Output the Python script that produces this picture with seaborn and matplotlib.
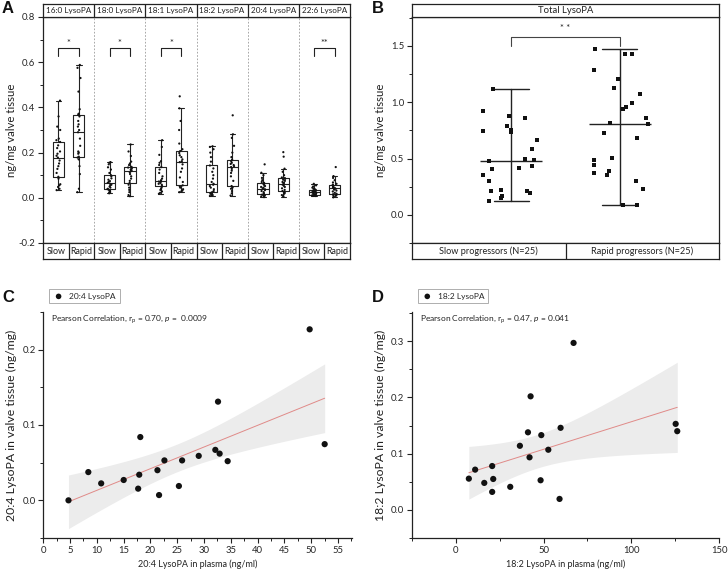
import numpy as np
import pandas as pd
import matplotlib
matplotlib.use("Agg")
import matplotlib.pyplot as plt
import seaborn as sns
from matplotlib.ticker import MultipleLocator, FormatStrFormatter

sns.set_theme(style="ticks")
plt.rcParams["font.family"] = ["Lato", "DejaVu Sans"]
plt.rcParams["mathtext.fontset"] = "custom"
plt.rcParams["mathtext.rm"] = "Lato"
plt.rcParams["mathtext.it"] = "Lato:italic"
plt.rcParams["mathtext.bf"] = "Lato:bold"

# ---------------- data ----------------
species = ["16:0 LysoPA", "18:0 LysoPA", "18:1 LysoPA", "18:2 LysoPA", "20:4 LysoPA", "22:6 LysoPA"]
groups = ["Slow", "Rapid"]
sig_species = ["16:0 LysoPA", "18:0 LysoPA", "18:1 LysoPA", "22:6 LysoPA"]
sig_labels = ["*", "*", "*", "**"]

a160_slow = [0.034, 0.040, 0.048, 0.055, 0.060, 0.085, 0.093, 0.110, 0.128, 0.140, 0.152, 0.165, 0.178,
             0.186, 0.195, 0.205, 0.220, 0.232, 0.247, 0.255, 0.262, 0.300, 0.315, 0.360, 0.430]
a160_rapid = [0.025, 0.040, 0.105, 0.140, 0.170, 0.178, 0.182, 0.195, 0.200, 0.205, 0.230, 0.262, 0.290,
              0.300, 0.315, 0.325, 0.340, 0.360, 0.368, 0.372, 0.392, 0.470, 0.530, 0.575, 0.588]
a180_slow = [0.020, 0.022, 0.026, 0.030, 0.034, 0.038, 0.040, 0.045, 0.050, 0.055, 0.058, 0.062, 0.066,
             0.070, 0.074, 0.080, 0.086, 0.095, 0.100, 0.110, 0.125, 0.135, 0.148, 0.155, 0.158]
a180_rapid = [0.007, 0.012, 0.025, 0.035, 0.045, 0.058, 0.066, 0.075, 0.085, 0.095, 0.105, 0.112, 0.118,
              0.120, 0.124, 0.127, 0.130, 0.134, 0.137, 0.145, 0.152, 0.160, 0.185, 0.205, 0.236]
a181_slow = [0.018, 0.022, 0.028, 0.035, 0.040, 0.046, 0.052, 0.058, 0.062, 0.066, 0.070, 0.072, 0.074,
             0.078, 0.085, 0.095, 0.110, 0.125, 0.136, 0.145, 0.155, 0.162, 0.190, 0.225, 0.255]
a181_rapid = [0.025, 0.028, 0.032, 0.038, 0.045, 0.050, 0.055, 0.070, 0.090, 0.115, 0.130, 0.148, 0.158,
              0.162, 0.170, 0.180, 0.188, 0.198, 0.207, 0.215, 0.240, 0.300, 0.340, 0.396, 0.449]
a182_slow = [0.008, 0.010, 0.012, 0.015, 0.018, 0.022, 0.025, 0.030, 0.038, 0.045, 0.052, 0.058, 0.062,
             0.070, 0.085, 0.100, 0.115, 0.130, 0.143, 0.160, 0.180, 0.200, 0.215, 0.225, 0.228]
a182_rapid = [0.010, 0.020, 0.030, 0.040, 0.045, 0.048, 0.052, 0.075, 0.095, 0.110, 0.120, 0.128, 0.136,
              0.140, 0.145, 0.150, 0.155, 0.162, 0.169, 0.180, 0.200, 0.230, 0.265, 0.281, 0.365]
a204_slow = [0.003, 0.006, 0.008, 0.010, 0.012, 0.014, 0.015, 0.020, 0.025, 0.030, 0.034, 0.038, 0.041,
             0.045, 0.048, 0.052, 0.056, 0.060, 0.066, 0.070, 0.078, 0.088, 0.100, 0.111, 0.148]
a204_rapid = [0.005, 0.008, 0.012, 0.018, 0.022, 0.026, 0.030, 0.035, 0.042, 0.048, 0.053, 0.058, 0.062,
              0.066, 0.070, 0.075, 0.080, 0.084, 0.087, 0.090, 0.100, 0.115, 0.129, 0.182, 0.202]
a226_slow = [0.008, 0.009, 0.010, 0.010, 0.011, 0.012, 0.012, 0.014, 0.016, 0.018, 0.020, 0.023, 0.025,
             0.026, 0.027, 0.028, 0.030, 0.032, 0.035, 0.038, 0.040, 0.045, 0.050, 0.055, 0.062]
a226_rapid = [0.002, 0.006, 0.010, 0.012, 0.014, 0.016, 0.018, 0.022, 0.028, 0.032, 0.036, 0.040, 0.043,
              0.045, 0.048, 0.050, 0.053, 0.055, 0.058, 0.062, 0.068, 0.078, 0.088, 0.096, 0.136]

b_labels = ["Slow progressors (N=25)", "Rapid progressors (N=25)"]
b_slow = [1.122, 0.921, 0.877, 0.862, 0.788, 0.756, 0.744, 0.738, 0.667, 0.585, 0.493, 0.475, 0.484,
          0.434, 0.404, 0.416, 0.351, 0.301, 0.218, 0.210, 0.210, 0.192, 0.165, 0.148, 0.127]
b_rapid = [1.470, 1.426, 1.432, 1.290, 1.210, 1.125, 1.072, 0.992, 0.954, 0.942, 0.859, 0.806, 0.812,
           0.729, 0.685, 0.487, 0.502, 0.443, 0.393, 0.369, 0.354, 0.298, 0.230, 0.086, 0.086]

c_plasma = [4.7, 8.4, 10.8, 15.0, 17.9, 17.7, 18.1, 21.3, 21.6, 22.6, 25.3, 25.9, 29.0, 32.1, 32.6, 32.9,
            34.4, 49.7, 52.5]
c_tissue = [0.000, 0.0375, 0.0225, 0.027, 0.034, 0.0155, 0.084, 0.040, 0.007, 0.053, 0.019, 0.053, 0.059,
            0.067, 0.131, 0.062, 0.052, 0.227, 0.0746]

d_plasma = [7.4, 11.0, 16.2, 20.7, 20.7, 21.3, 31.0, 36.5, 41.1, 42.0, 42.6, 48.3, 48.7, 52.7, 59.1, 59.7,
            67.1, 125.3, 126.2]
d_tissue = [0.0556, 0.0716, 0.048, 0.078, 0.032, 0.055, 0.041, 0.114, 0.138, 0.0935, 0.202, 0.0527, 0.133,
            0.107, 0.0195, 0.146, 0.297, 0.153, 0.140]

T975_DF17 = 2.1098  # Student t quantile for 95% CI, n=19

# ---------------- tables ----------------
slow_lists = [a160_slow, a180_slow, a181_slow, a182_slow, a204_slow, a226_slow]
rapid_lists = [a160_rapid, a180_rapid, a181_rapid, a182_rapid, a204_rapid, a226_rapid]
rows = []
for sp, s_vals, r_vals in zip(species, slow_lists, rapid_lists):
    rows += [(sp, "Slow", v) for v in s_vals]
    rows += [(sp, "Rapid", v) for v in r_vals]
dfA = pd.DataFrame(rows, columns=["species", "group", "value"])
dfB = pd.DataFrame({"group": ["Slow"] * len(b_slow) + ["Rapid"] * len(b_rapid),
                    "value": b_slow + b_rapid})

LINE = "#222222"
fig = plt.figure(figsize=(7.28, 5.72), dpi=100)
W, H = 728.0, 572.0


def rect(x0, y0, x1, y1):
    return [x0 / W, 1 - y1 / H, (x1 - x0) / W, (y1 - y0) / H]


def style_frame(ax, lw=0.9):
    for s in ax.spines.values():
        s.set_visible(True)
        s.set_color(LINE)
        s.set_linewidth(lw)


def strip_axes(rc, xlim, bounds, labels, centers, fs):
    ax = fig.add_axes(rc)
    ax.set_xlim(*xlim)
    ax.set_ylim(0, 1)
    ax.set_xticks([])
    ax.set_yticks([])
    ax.set_facecolor("white")
    style_frame(ax, 0.9)
    for b in bounds:
        ax.axvline(b, color=LINE, lw=0.9)
    for c, t in zip(centers, labels):
        ax.text(c, 0.47, t, ha="center", va="center", fontsize=fs, color="#222")
    return ax


# ---------------- Panel A ----------------
axA = fig.add_axes(rect(43, 17, 350, 243))
sns.boxplot(data=dfA, x="species", y="value", hue="group", order=species, hue_order=groups,
            width=0.8, gap=0.45, whis=1.5, showfliers=False, fill=False,
            palette={"Slow": LINE, "Rapid": LINE}, linewidth=0.8, legend=False, ax=axA)
np.random.seed(7)
sns.stripplot(data=dfA, x="species", y="value", hue="group", order=species, hue_order=groups,
              dodge=True, jitter=0.08, size=1.6, palette={"Slow": "#111", "Rapid": "#111"},
              linewidth=0, legend=False, ax=axA)
axA.set_xlim(-0.5, len(species) - 0.5)
axA.set_ylim(-0.2, 0.8)
axA.set_xticks([])
axA.set_xlabel("")
axA.yaxis.set_major_locator(MultipleLocator(0.2))
axA.yaxis.set_minor_locator(MultipleLocator(0.1))
axA.yaxis.set_major_formatter(FormatStrFormatter("%.1f"))
axA.tick_params(axis="y", which="major", length=3.5, width=0.8, labelsize=6.8, pad=2, color=LINE)
axA.tick_params(axis="y", which="minor", length=2, width=0.7, color=LINE)
axA.set_ylabel("ng/mg valve tissue", fontsize=8.2, color="#222")
axA.yaxis.set_label_coords(-0.085, 0.5)
style_frame(axA)
for i in range(len(species) - 1):
    axA.axvline(i + 0.5, color="#999999", lw=0.6, ls=(0, (2, 2)))
for sp, lab in zip(sig_species, sig_labels):
    i = species.index(sp)
    axA.plot([i - 0.2, i - 0.2, i + 0.2, i + 0.2], [0.629, 0.663, 0.663, 0.629], color=LINE, lw=0.8)
    axA.text(i, 0.683, lab, ha="center", va="center", fontsize=6.8, color="#222")

strip_axes(rect(43, 4, 350, 17), (-0.5, len(species) - 0.5),
           [i + 0.5 for i in range(len(species) - 1)], species, range(len(species)), 5.9)
xlab = []
xcen = []
for i in range(len(species)):
    xlab += groups
    xcen += [i - 0.25, i + 0.25]
strip_axes(rect(43, 243, 350, 259), (-0.5, len(species) - 0.5),
           [i * 0.5 - 0.5 for i in range(1, 2 * len(species))], xlab, xcen, 6.4)

# ---------------- Panel B ----------------
axB = fig.add_axes(rect(412, 17, 719, 243))
np.random.seed(11)
sns.stripplot(data=dfB, x="group", y="value", order=groups, jitter=0.27, size=2.6, marker="s",
              color="#111", linewidth=0, ax=axB)
sns.pointplot(data=dfB, x="group", y="value", order=groups, estimator="median", errorbar=("pi", 100),
              capsize=0.33, markers="_", linestyles="none", color=LINE, markersize=45,
              markeredgewidth=1.0, linewidth=1.0, err_kws={"linewidth": 1.0}, ax=axB)
xl = (-0.92, 1.92)
axB.set_xlim(*xl)
axB.set_ylim(-0.25, 1.757)
axB.set_xticks([])
axB.set_xlabel("")
axB.yaxis.set_major_locator(MultipleLocator(0.5))
axB.yaxis.set_minor_locator(MultipleLocator(0.25))
axB.yaxis.set_major_formatter(FormatStrFormatter("%.1f"))
axB.tick_params(axis="y", which="major", length=3.5, width=0.8, labelsize=6.8, pad=2, color=LINE)
axB.tick_params(axis="y", which="minor", length=2, width=0.7, color=LINE)
axB.set_ylabel("ng/mg valve tissue", fontsize=8.2, color="#222")
axB.yaxis.set_label_coords(-0.085, 0.5)
style_frame(axB)
axB.plot([0, 0, 1, 1], [1.5, 1.58, 1.58, 1.5], color="#444", lw=0.8)
axB.text(0.5, 1.655, "* *", ha="center", va="center", fontsize=6.8, color="#222")

strip_axes(rect(412, 4, 719, 17), xl, [], ["Total LysoPA"], [(xl[0] + xl[1]) / 2], 6.8)
strip_axes(rect(412, 243, 719, 259), xl, [0.5], b_labels, [(xl[0] + 0.5) / 2, (0.5 + xl[1]) / 2], 6.6)


# ---------------- Panels C / D ----------------
def corr_panel(rc, xv, yv, label, xlim, ylim, xmaj, xmin, ymaj, ymin, stat_text, xlabel, ylabel):
    ax = fig.add_axes(rc)
    xa = np.asarray(xv, float)
    ya = np.asarray(yv, float)
    n = len(xa)
    b1, b0 = np.polyfit(xa, ya, 1)
    resid = ya - (b0 + b1 * xa)
    s = np.sqrt(np.sum(resid ** 2) / (n - 2))
    sxx = np.sum((xa - xa.mean()) ** 2)
    grid = np.linspace(xa.min(), xa.max(), 200)
    fit = b0 + b1 * grid
    half = T975_DF17 * s * np.sqrt(1.0 / n + (grid - xa.mean()) ** 2 / sxx)
    ax.fill_between(grid, fit - half, fit + half, color="#ececec", lw=0, zorder=1)
    sns.regplot(x=xv, y=yv, ci=None, scatter=False,
                line_kws={"color": "#e08a88", "linewidth": 0.7, "zorder": 2}, ax=ax)
    sns.scatterplot(x=xv, y=yv, color="#111", s=20, edgecolor="none", label=label, ax=ax, zorder=3)
    ax.set_xlim(*xlim)
    ax.set_ylim(*ylim)
    ax.xaxis.set_major_locator(MultipleLocator(xmaj))
    ax.xaxis.set_minor_locator(MultipleLocator(xmin))
    ax.yaxis.set_major_locator(MultipleLocator(ymaj))
    ax.yaxis.set_minor_locator(MultipleLocator(ymin))
    ax.yaxis.set_major_formatter(FormatStrFormatter("%.1f"))
    ax.tick_params(which="major", length=3.5, width=0.8, labelsize=6.8, pad=2, color=LINE)
    ax.tick_params(which="minor", length=2, width=0.7, color=LINE)
    for sname in ["top", "right"]:
        ax.spines[sname].set_visible(False)
    for sname in ["left", "bottom"]:
        ax.spines[sname].set_color(LINE)
        ax.spines[sname].set_linewidth(0.9)
    ax.set_xlabel(xlabel, fontsize=6.5, color="#222")
    ax.set_ylabel(ylabel, fontsize=8.8, color="#222")
    ax.xaxis.set_label_coords(0.5, -0.095)
    ax.yaxis.set_label_coords(-0.085, 0.5)
    ax.text(0.025, 0.965, stat_text, transform=ax.transAxes, fontsize=6.0, va="center", ha="left",
            color="#222")
    leg = ax.legend(loc="lower left", bbox_to_anchor=(0.005, 1.02), fontsize=6.0, frameon=True,
                    fancybox=False, edgecolor="#999999", borderpad=0.45, handletextpad=0.6,
                    handlelength=1.4, markerscale=0.9)
    leg.get_frame().set_linewidth(0.7)
    return ax


corr_panel(rect(43.3, 312, 352, 538), c_plasma, c_tissue, "20:4 LysoPA", (0, 57.6), (-0.05, 0.25),
           5, 2.5, 0.1, 0.05, r"Pearson Correlation, r$_\mathrm{p}$ = 0.70, $p$ =  0.0009",
           "20:4 LysoPA in plasma (ng/ml)", "20:4 LysoPA in valve tissue (ng/mg)")
corr_panel(rect(412, 312, 719, 538), d_plasma, d_tissue, "18:2 LysoPA", (-25, 150), (-0.05, 0.352),
           50, 25, 0.1, 0.05, r"Pearson Correlation, r$_\mathrm{p}$ = 0.47, $p$ = $0.041$",
           "18:2 LysoPA in plasma (ng/ml)", "18:2 LysoPA in valve tissue (ng/mg)")

# panel letters
for lab, x, y in [("A", 2, 1), ("B", 372, 1), ("C", 2, 290), ("D", 372, 290)]:
    fig.text(x / W, 1 - y / H, lab, fontsize=12, fontweight="bold", va="top", ha="left",
             family=["Liberation Sans", "DejaVu Sans"], color="#111")

fig.savefig("out.png", dpi=100)
